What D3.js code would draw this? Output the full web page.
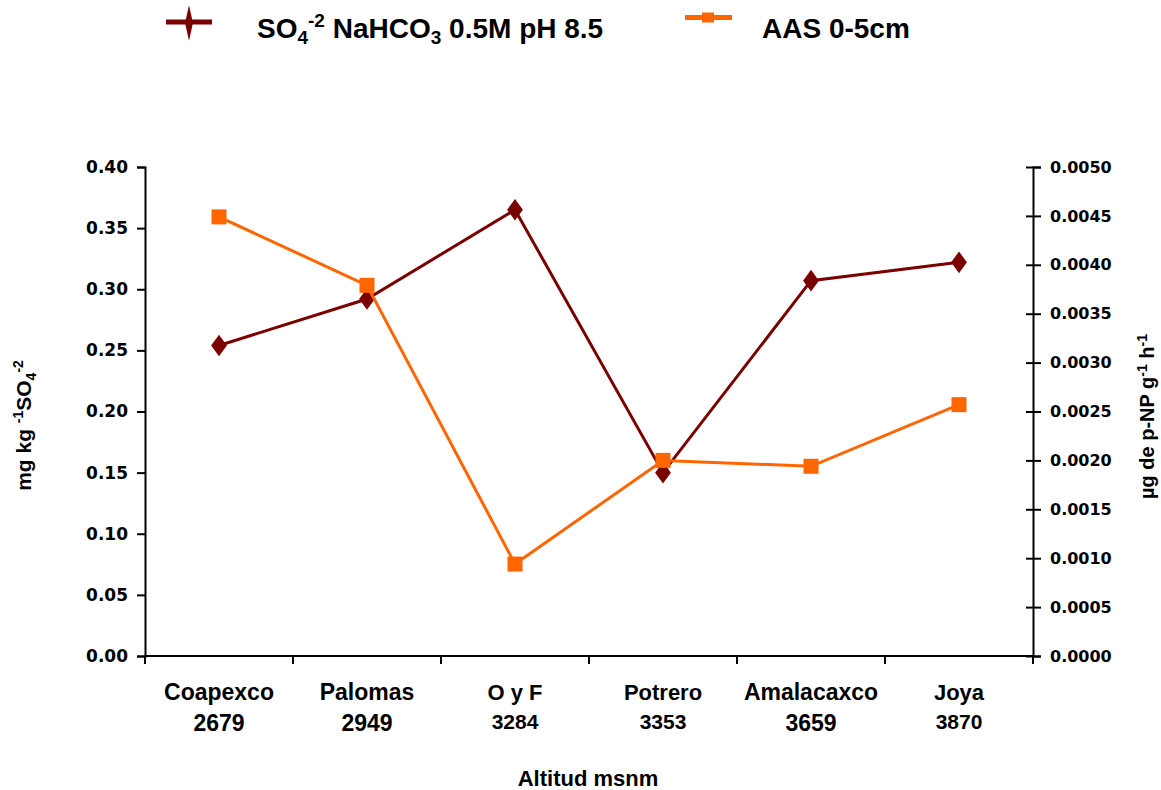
<!DOCTYPE html>
<html>
<head>
<meta charset="utf-8">
<script src="https://cdn.jsdelivr.net/npm/d3@7"></script>
<style>
  html, body { margin: 0; padding: 0; background: #fff; }
  svg { display: block; font-family: Arial, "Liberation Sans", sans-serif; font-weight: bold; }
</style>
</head>
<body>
<svg id="chart" width="1161" height="790"></svg>
<script>
// Sampling sites and their altitude (m a.s.l.)
const sites = ["Coapexco", "Palomas", "O y F", "Potrero", "Amalacaxco", "Joya"];
const altitudes = ["2679", "2949", "3284", "3353", "3659", "3870"];

// Sulfate extracted with NaHCO3 0.5M pH 8.5 (mg kg-1 SO4-2), left axis
const sulfate = [0.254, 0.292, 0.365, 0.150, 0.307, 0.322];
// Arylsulfatase activity, 0-5 cm (µg p-NP g-1 h-1), right axis
const arylsulfatase = [0.00449, 0.00379, 0.00094, 0.00200, 0.00194, 0.00257];

// Axis ticks
const leftTicks = [0, 0.05, 0.10, 0.15, 0.20, 0.25, 0.30, 0.35, 0.40];
const rightTicks = [0, 0.0005, 0.0010, 0.0015, 0.0020, 0.0025, 0.0030, 0.0035, 0.0040, 0.0045, 0.0050];

const svg = d3.select("#chart");
const plot = { left: 145, right: 1033, top: 167, bottom: 656 };

const MAROON = "#7a0000";
const ORANGE = "#ff6600";

const x = d3.scaleBand().domain(sites).range([plot.left, plot.right]);
const yL = d3.scaleLinear().domain([0, 0.40]).range([plot.bottom, plot.top]);
const yR = d3.scaleLinear().domain([0, 0.0050]).range([plot.bottom, plot.top]);
const cx = s => x(s) + x.bandwidth() / 2;

// Left axis
const gL = svg.append("g").attr("transform", `translate(${plot.left},0)`)
  .call(d3.axisLeft(yL).tickValues(leftTicks).tickFormat(d3.format(".2f")).tickSizeOuter(0).tickSize(8).tickPadding(9));
gL.selectAll("text").attr("font-size", 17).attr("font-family", "'DejaVu Sans', sans-serif").attr("font-weight", "bold").attr("fill", "#000");

// Right axis (ticks cross the line)
const gR = svg.append("g").attr("transform", `translate(${plot.right},0)`)
  .call(d3.axisRight(yR).tickValues(rightTicks).tickFormat(d3.format(".4f")).tickSizeOuter(0).tickSize(8).tickPadding(9));
gR.selectAll(".tick line").attr("x1", -7).attr("x2", 8);
gR.selectAll("text").attr("font-size", 16).attr("font-family", "'DejaVu Sans', sans-serif").attr("font-weight", "bold").attr("fill", "#000");

[gL, gR].forEach(g => {
  g.select(".domain").attr("stroke", "#000").attr("stroke-width", 2);
  g.selectAll(".tick line").attr("stroke", "#000").attr("stroke-width", 2);
});

// Bottom axis: ticks at the category boundaries
const gB = svg.append("g");
gB.append("line")
  .attr("x1", plot.left).attr("x2", plot.right)
  .attr("y1", plot.bottom).attr("y2", plot.bottom)
  .attr("stroke", "#000").attr("stroke-width", 2);
const edges = sites.map(s => x(s)).concat([x.range()[1]]);
gB.selectAll("line.edge").data(edges).join("line")
  .attr("class", "edge")
  .attr("x1", d => d).attr("x2", d => d)
  .attr("y1", plot.bottom).attr("y2", plot.bottom + 8)
  .attr("stroke", "#000").attr("stroke-width", 2);

// Category labels (site name over altitude)
const compact = new Set(["O y F", "Potrero", "Joya"]);
const lab = gB.selectAll("g.cat").data(sites).join("g").attr("class", "cat")
  .attr("transform", d => `translate(${cx(d)},0)`);
lab.append("text")
  .attr("y", 700).attr("text-anchor", "middle")
  .attr("font-size", d => compact.has(d) ? 22 : 23)
  .text(d => d);
lab.append("text")
  .attr("y", d => compact.has(d) ? 729 : 731).attr("text-anchor", "middle")
  .attr("font-size", d => compact.has(d) ? 21 : 23)
  .text((d, i) => altitudes[i]);

// Axis titles
svg.append("text")
  .attr("x", 588).attr("y", 786)
  .attr("text-anchor", "middle").attr("font-size", 22)
  .text("Altitud msnm");

const tL = svg.append("text")
  .attr("transform", `translate(31,${(plot.top + plot.bottom) / 2 + 14}) rotate(-90)`)
  .attr("text-anchor", "middle").attr("font-size", 21);
tL.append("tspan").text("mg kg ");
tL.append("tspan").attr("dy", -8).attr("font-size", 14).text("-1");
tL.append("tspan").attr("dy", 8).text("SO");
tL.append("tspan").attr("dy", 5).attr("font-size", 14).text("4");
tL.append("tspan").attr("dy", -13).attr("font-size", 14).text("-2");

const tR = svg.append("text")
  .attr("transform", `translate(1154,${(plot.top + plot.bottom) / 2 + 5}) rotate(-90)`)
  .attr("text-anchor", "middle").attr("font-size", 20);
tR.append("tspan").text("µg de p-NP g");
tR.append("tspan").attr("dy", -7).attr("font-size", 14).text("-1");
tR.append("tspan").attr("dy", 7).text(" h");
tR.append("tspan").attr("dy", -7).attr("font-size", 14).text("-1");

// Series lines and markers
const lineL = d3.line().x((d, i) => cx(sites[i])).y(d => yL(d));
const lineR = d3.line().x((d, i) => cx(sites[i])).y(d => yR(d));
const diamond = d3.symbol().type(d3.symbolDiamond).size(150);

svg.append("path").datum(sulfate).attr("d", lineL)
  .attr("fill", "none").attr("stroke", MAROON).attr("stroke-width", 3);
svg.selectAll("path.dia").data(sulfate).join("path").attr("class", "dia")
  .attr("transform", (d, i) => `translate(${cx(sites[i])},${yL(d)}) scale(1.2,0.95)`)
  .attr("d", diamond).attr("fill", MAROON);

svg.append("path").datum(arylsulfatase).attr("d", lineR)
  .attr("fill", "none").attr("stroke", ORANGE).attr("stroke-width", 3);
svg.selectAll("rect.sq").data(arylsulfatase).join("rect").attr("class", "sq")
  .attr("x", (d, i) => cx(sites[i]) - 7.5).attr("y", d => yR(d) - 7.5)
  .attr("width", 15).attr("height", 15).attr("fill", ORANGE);

// Legend
const lg = svg.append("g");
lg.append("line").attr("x1", 166).attr("x2", 212).attr("y1", 22).attr("y2", 22)
  .attr("stroke", MAROON).attr("stroke-width", 5);
lg.append("path").attr("transform", "translate(189,23) scale(0.6,1.55)")
  .attr("d", diamond).attr("fill", MAROON);
const t1 = lg.append("text").attr("x", 257).attr("y", 38).attr("font-size", 28);
t1.append("tspan").text("SO");
t1.append("tspan").attr("dy", 6).attr("font-size", 19).text("4");
t1.append("tspan").attr("dy", -17).attr("font-size", 19).text("-2");
t1.append("tspan").attr("dy", 11).text(" NaHCO");
t1.append("tspan").attr("dy", 6).attr("font-size", 19).text("3");
t1.append("tspan").attr("dy", -6).text(" 0.5M pH 8.5");

lg.append("line").attr("x1", 685).attr("x2", 732).attr("y1", 17.5).attr("y2", 17.5)
  .attr("stroke", ORANGE).attr("stroke-width", 5);
lg.append("rect").attr("x", 702).attr("y", 12.5).attr("width", 12).attr("height", 10).attr("fill", ORANGE);
lg.append("text").attr("x", 762).attr("y", 38).attr("font-size", 28).text("AAS 0-5cm");
</script>
</body>
</html>
